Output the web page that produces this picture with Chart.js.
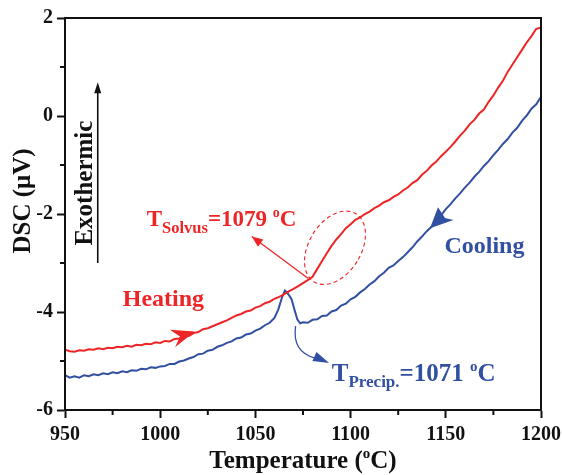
<!DOCTYPE html>
<html>
<head>
<meta charset="utf-8">
<script src="https://cdn.jsdelivr.net/npm/chart.js@4/dist/chart.umd.min.js"></script>
<style>
  html, body { margin: 0; padding: 0; background: #fff; }
</style>
</head>
<body>
<canvas id="dsc" width="562" height="475"></canvas>
<script>
// DSC curves, temperature in oC, signal in uV
var heatT = [950, 952.5, 955, 957.5, 960, 962.5, 965, 967.5, 970, 972.5, 975, 977.5, 980, 982.5, 985, 987.5, 990, 992.5, 995, 997.5,
  1000, 1002.5, 1005, 1007.5, 1010, 1012.5, 1015, 1017.5, 1020, 1022.5, 1025, 1027.5, 1030, 1032.5, 1035, 1037.5, 1040, 1042.5, 1045, 1047.5,
  1050, 1052.5, 1055, 1057.5, 1060, 1062.5, 1065, 1067.5, 1070, 1072.5, 1075, 1077.5, 1080, 1082.5, 1085, 1087.5, 1090, 1092.5, 1095, 1097.5,
  1100, 1102.5, 1105, 1107.5, 1110, 1112.5, 1115, 1117.5, 1120, 1122.5, 1125, 1127.5, 1130, 1132.5, 1135, 1137.5, 1140, 1142.5, 1145, 1147.5,
  1150, 1152.5, 1155, 1157.5, 1160, 1162.5, 1165, 1167.5, 1170, 1172.5, 1175, 1177.5, 1180, 1182.5, 1185, 1187.5, 1190, 1192.5, 1195, 1197.5, 1200];
var heatDSC = [-4.77, -4.80, -4.81, -4.78, -4.79, -4.76, -4.77, -4.74, -4.76, -4.73, -4.74, -4.71, -4.72, -4.69, -4.71, -4.67, -4.68, -4.65, -4.66, -4.62,
  -4.63, -4.59, -4.60, -4.55, -4.54, -4.50, -4.49, -4.43, -4.41, -4.35, -4.33, -4.29, -4.25, -4.21, -4.17, -4.12, -4.07, -4.04, -3.99, -3.97,
  -3.91, -3.88, -3.82, -3.79, -3.73, -3.69, -3.64, -3.58, -3.53, -3.47, -3.41, -3.35, -3.28, -3.12, -2.96, -2.80, -2.65, -2.52, -2.41, -2.29,
  -2.21, -2.12, -2.07, -2.00, -1.95, -1.88, -1.83, -1.76, -1.72, -1.65, -1.60, -1.52, -1.46, -1.37, -1.31, -1.20, -1.12, -1.01, -0.93, -0.82,
  -0.73, -0.63, -0.52, -0.40, -0.30, -0.17, -0.08, 0.05, 0.13, 0.29, 0.42, 0.58, 0.72, 0.90, 1.05, 1.20, 1.35, 1.50, 1.63, 1.78, 1.80];

var coolT = [950, 952.5, 955, 957.5, 960, 962.5, 965, 967.5, 970, 972.5, 975, 977.5, 980, 982.5, 985, 987.5, 990, 992.5, 995, 997.5,
  1000, 1002.5, 1005, 1007.5, 1010, 1012.5, 1015, 1017.5, 1020, 1022.5, 1025, 1027.5, 1030, 1032.5, 1035, 1037.5, 1040, 1042.5, 1045, 1047.5,
  1050, 1052.5, 1055, 1057.5, 1060, 1062, 1064, 1065.5, 1067, 1069, 1070.5, 1072, 1073.5, 1075, 1077.5, 1080, 1082.5, 1085, 1087.5, 1090,
  1092.5, 1095, 1097.5, 1100, 1102.5, 1105, 1107.5, 1110, 1112.5, 1115, 1117.5, 1120, 1122.5, 1125, 1127.5, 1130, 1132.5, 1135, 1137.5, 1140,
  1142.5, 1145, 1147.5, 1150, 1152.5, 1155, 1157.5, 1160, 1162.5, 1165, 1167.5, 1170, 1172.5, 1175, 1177.5, 1180, 1182.5, 1185, 1187.5, 1190,
  1192.5, 1195, 1197.5, 1200];
var coolDSC = [-5.29, -5.34, -5.31, -5.34, -5.29, -5.31, -5.27, -5.29, -5.25, -5.27, -5.23, -5.25, -5.21, -5.23, -5.19, -5.20, -5.16, -5.17, -5.13, -5.14,
  -5.11, -5.10, -5.06, -5.06, -5.01, -4.99, -4.95, -4.92, -4.86, -4.85, -4.79, -4.77, -4.71, -4.68, -4.63, -4.60, -4.54, -4.52, -4.46, -4.44,
  -4.38, -4.34, -4.27, -4.22, -4.12, -3.95, -3.70, -3.56, -3.62, -3.74, -3.95, -4.15, -4.23, -4.21, -4.22, -4.16, -4.15, -4.08, -4.07, -3.99,
  -3.96, -3.87, -3.83, -3.74, -3.69, -3.60, -3.53, -3.44, -3.37, -3.27, -3.20, -3.10, -3.05, -2.96, -2.88, -2.78, -2.68, -2.56, -2.46, -2.35,
  -2.26, -2.13, -2.03, -1.90, -1.80, -1.68, -1.58, -1.46, -1.36, -1.24, -1.14, -1.02, -0.92, -0.80, -0.69, -0.57, -0.47, -0.34, -0.24, -0.10,
  0.01, 0.15, 0.24, 0.39];

var xMinorTicks = [975, 1025, 1075, 1125, 1175];
var yMinorTicks = [1, -1, -3, -5];

var RED = '#ee2526';
var BLUE = '#3150a2';
var SERIF = "'Liberation Serif', 'Times New Roman', serif";

function pairs(xs, ys) {
  return xs.map(function (t, i) { return { x: t, y: ys[i] }; });
}

// width of text made of pieces [text, size, dy]
function richWidth(ctx, parts) {
  var w = 0;
  parts.forEach(function (p) {
    ctx.font = 'bold ' + p[1] + 'px ' + SERIF;
    w += ctx.measureText(p[0]).width;
  });
  return w;
}

// draws the pieces side by side
function richText(ctx, x, y, parts, color) {
  ctx.fillStyle = color;
  ctx.textAlign = 'left';
  ctx.textBaseline = 'alphabetic';
  parts.forEach(function (p) {
    ctx.font = 'bold ' + p[1] + 'px ' + SERIF;
    ctx.fillText(p[0], x, y + p[2]);
    x += ctx.measureText(p[0]).width;
  });
}

function arrowHead(ctx, from, to, len, half, color) {
  var a = Math.atan2(to.y - from.y, to.x - from.x);
  ctx.fillStyle = color;
  ctx.beginPath();
  ctx.moveTo(to.x, to.y);
  ctx.lineTo(to.x - len * Math.cos(a) + half * Math.sin(a), to.y - len * Math.sin(a) - half * Math.cos(a));
  ctx.lineTo(to.x - len * Math.cos(a) - half * Math.sin(a), to.y - len * Math.sin(a) + half * Math.cos(a));
  ctx.closePath();
  ctx.fill();
}

var decorations = {
  id: 'decorations',
  afterDraw: function (chart) {
    var ctx = chart.ctx, xs = chart.scales.x, ys = chart.scales.y, area = chart.chartArea;
    function P(t, v) { return { x: xs.getPixelForValue(t), y: ys.getPixelForValue(v) }; }
    ctx.save();

    // frame + minor ticks
    ctx.strokeStyle = '#111';
    ctx.lineWidth = 2;
    ctx.strokeRect(area.left, area.top, area.right - area.left, area.bottom - area.top);
    ctx.beginPath();
    xMinorTicks.forEach(function (t) {
      var px = xs.getPixelForValue(t);
      ctx.moveTo(px, area.bottom); ctx.lineTo(px, area.bottom + 5);
    });
    yMinorTicks.forEach(function (v) {
      var py = ys.getPixelForValue(v);
      ctx.moveTo(area.left, py); ctx.lineTo(area.left - 5, py);
    });
    ctx.stroke();

    // axis titles
    var xTitle = [['Temperature (', 25, 0], ['o', 15, -10], ['C)', 25, 0]];
    var xw = richWidth(ctx, xTitle);
    richText(ctx, (area.left + area.right) / 2 - xw / 2, 468, xTitle, '#111');
    ctx.save();
    ctx.translate(30, 201);
    ctx.rotate(-Math.PI / 2);
    ctx.font = 'bold 25px ' + SERIF;
    ctx.textAlign = 'center';
    ctx.fillStyle = '#111';
    ctx.fillText('DSC (\u03bcV)', 0, 0);
    ctx.restore();

    // exothermic arrow
    var e0 = P(967.2, -3.0), e1 = P(967.2, 0.69);
    ctx.strokeStyle = '#111';
    ctx.lineWidth = 1.6;
    ctx.beginPath(); ctx.moveTo(e0.x, e0.y); ctx.lineTo(e1.x, e1.y + 6); ctx.stroke();
    arrowHead(ctx, e0, e1, 11, 3.5, '#111');
    var et = P(959.5, -1.37);
    ctx.save();
    ctx.translate(et.x + 9, et.y);
    ctx.rotate(-Math.PI / 2);
    ctx.font = 'bold 25px ' + SERIF;
    ctx.textAlign = 'center';
    ctx.fillStyle = '#111';
    ctx.fillText('Exothermic', 0, 0);
    ctx.restore();

    // heating side
    var h = P(1001.7, -3.87);
    ctx.font = 'bold 24px ' + SERIF;
    ctx.textAlign = 'center';
    ctx.fillStyle = RED;
    ctx.fillText('Heating', h.x, h.y);
    var a1 = P(1018.2, -4.40), a2 = P(1005.1, -4.36), a3 = P(1010.4, -4.50), a4 = P(1007.8, -4.72);
    ctx.beginPath();
    ctx.moveTo(a1.x, a1.y); ctx.lineTo(a2.x, a2.y); ctx.lineTo(a3.x, a3.y); ctx.lineTo(a4.x, a4.y);
    ctx.closePath(); ctx.fill();

    var s = P(992.9, -2.255);
    richText(ctx, s.x, s.y, [['T', 23, 0], ['Solvus', 16.5, 7], ['=1079 ', 23, 0], ['o', 14, -9], ['C', 23, 0]], RED);
    var r0 = P(1077.6, -3.31), r1 = P(1048.1, -2.46);
    ctx.strokeStyle = RED;
    ctx.lineWidth = 1.3;
    ctx.beginPath(); ctx.moveTo(r0.x, r0.y); ctx.lineTo(r1.x, r1.y); ctx.stroke();
    arrowHead(ctx, r0, r1, 11, 4.5, RED);
    var c = P(1091.8, -2.69);
    ctx.setLineDash([4, 3]);
    ctx.lineWidth = 1.1;
    ctx.beginPath();
    ctx.ellipse(c.x, c.y, 26, 40, 0.55, 0, Math.PI * 2);
    ctx.stroke();
    ctx.setLineDash([]);

    // cooling side
    var cl = P(1170.3, -2.80);
    ctx.font = 'bold 24px ' + SERIF;
    ctx.textAlign = 'center';
    ctx.fillStyle = BLUE;
    ctx.fillText('Cooling', cl.x, cl.y);
    var b1 = P(1141.7, -2.29), b2 = P(1145.9, -1.86), b3 = P(1149.6, -2.08), b4 = P(1154.0, -2.12);
    ctx.beginPath();
    ctx.moveTo(b1.x, b1.y); ctx.lineTo(b2.x, b2.y); ctx.lineTo(b3.x, b3.y); ctx.lineTo(b4.x, b4.y);
    ctx.closePath(); ctx.fill();

    var q0 = P(1071.1, -4.29), qc = P(1069.2, -4.82), q1 = P(1081.3, -4.94), q2 = P(1088.7, -5.04);
    ctx.strokeStyle = BLUE;
    ctx.lineWidth = 1.3;
    ctx.beginPath(); ctx.moveTo(q0.x, q0.y); ctx.quadraticCurveTo(qc.x, qc.y, q1.x, q1.y); ctx.stroke();
    arrowHead(ctx, { x: q1.x - 6, y: q1.y - 4 }, q2, 16, 5, BLUE);
    var pr = P(1090.1, -5.408);
    richText(ctx, pr.x, pr.y, [['T', 25, 0], ['Precip.', 17, 6], ['=1071 ', 25, 0], ['o', 15, -10], ['C', 25, 0]], BLUE);

    ctx.restore();
  }
};

var tickFont = { family: SERIF, size: 20, weight: 'bold' };
function plainTick(v) { return String(v); }

new Chart(document.getElementById('dsc').getContext('2d'), {
  type: 'line',
  data: {
    datasets: [
      { label: 'Heating', data: pairs(heatT, heatDSC), borderColor: RED, borderWidth: 2, pointRadius: 0, tension: 0, fill: false },
      { label: 'Cooling', data: pairs(coolT, coolDSC), borderColor: BLUE, borderWidth: 2, pointRadius: 0, tension: 0, fill: false }
    ]
  },
  options: {
    responsive: false,
    animation: false,
    devicePixelRatio: 1,
    layout: { padding: { top: 18, right: 21, left: 0, bottom: 0 } },
    plugins: { legend: { display: false }, tooltip: { enabled: false } },
    scales: {
      x: {
        type: 'linear', min: 950, max: 1200,
        afterFit: function (s) { s.height = 65; s.paddingRight = 0; s.paddingLeft = 0; },
        ticks: { stepSize: 50, autoSkip: false, maxRotation: 0, padding: 5, color: '#111', font: tickFont, callback: plainTick },
        grid: { drawOnChartArea: false, tickLength: 8, tickWidth: 2, tickColor: '#111' },
        border: { color: '#111', width: 2 }
      },
      y: {
        min: -6, max: 2,
        afterFit: function (s) { s.width = 65; },
        ticks: { stepSize: 2, padding: 4, color: '#111', font: tickFont, callback: plainTick },
        grid: { drawOnChartArea: false, tickLength: 8, tickWidth: 2, tickColor: '#111' },
        border: { color: '#111', width: 2 }
      }
    }
  },
  plugins: [decorations]
});
</script>
</body>
</html>
